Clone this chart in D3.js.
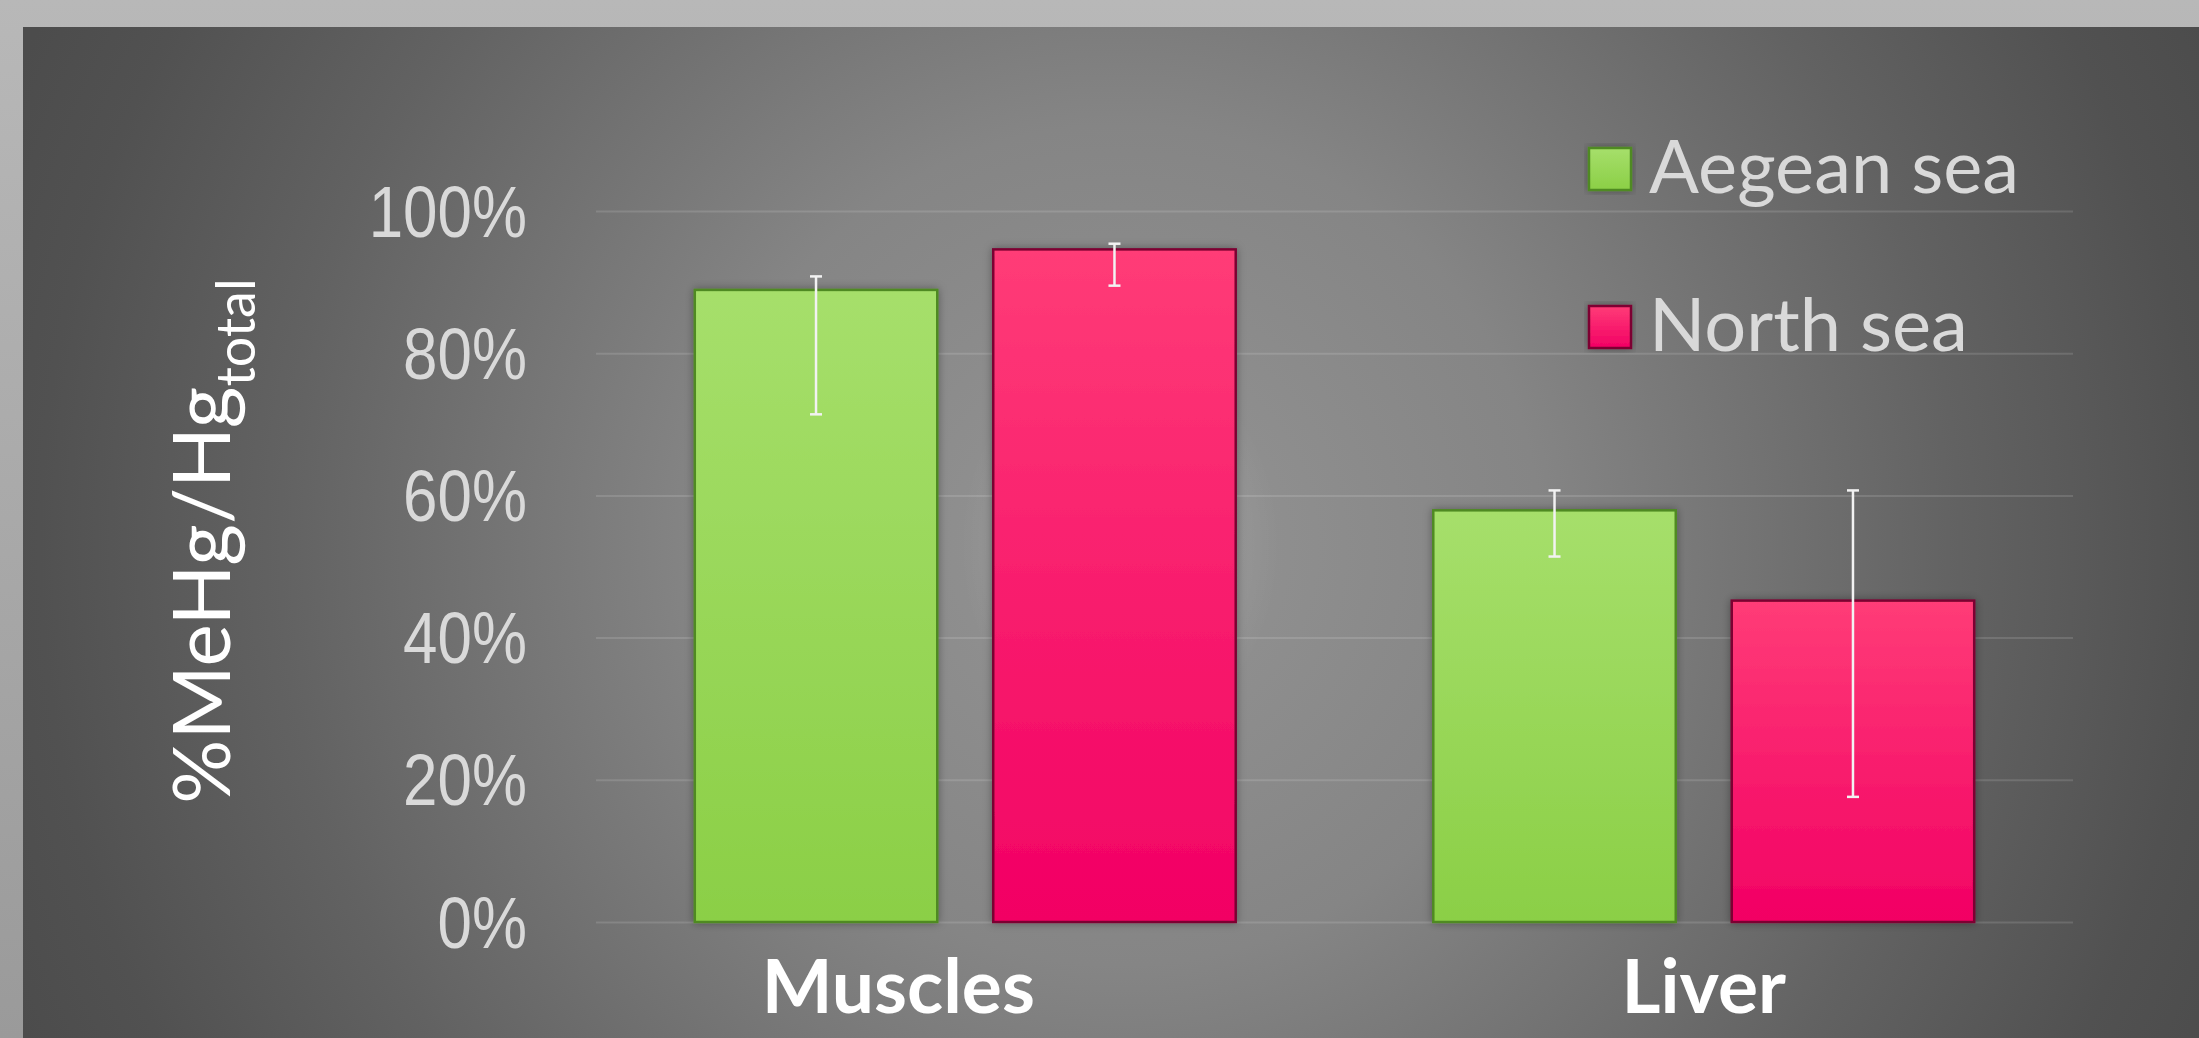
<!DOCTYPE html>
<html lang="en">
<head>
<meta charset="UTF-8">
<title>MeHg / Hg total</title>
<script src="https://d3js.org/d3.v7.min.js"></script>
<style>
  body { margin: 0; background: #b5b5b5; overflow: hidden; }
  svg { display: block; }
</style>
</head>
<body>

<svg id="chart"></svg>

<script>
const width = 2199, height = 1038;

// ==== data ====
const categories = ["Muscles", "Liver"];
const seriesNames = ["Aegean sea", "North sea"];
const aegeanValues = [88.9, 57.9];
const northValues = [94.6, 45.2];
// error bars are asymmetric in the original, so keep low/high ends
const aegeanErrLow = [71.4, 51.4];
const aegeanErrHigh = [90.8, 60.7];
const northErrLow = [89.5, 17.6];
const northErrHigh = [95.4, 60.7];
const yTicks = [0, 20, 40, 60, 80, 100];

// the "Muscles" label sits left of its group centre in the original
const catLabelShift = [-67, 0];

const series = [
  { name: seriesNames[0], values: aegeanValues, low: aegeanErrLow, high: aegeanErrHigh, grad: "gGreen", stroke: "#4f8a22" },
  { name: seriesNames[1], values: northValues, low: northErrLow, high: northErrHigh, grad: "gPink", stroke: "#7d0532" }
];

const svg = d3.select("#chart").attr("width", width).attr("height", height);
const defs = svg.append("defs");

// background gradients
const frame = defs.append("linearGradient").attr("id", "gFrame")
  .attr("x1", 0).attr("y1", 0).attr("x2", 0).attr("y2", 1);
frame.append("stop").attr("offset", 0).attr("stop-color", "#b8b8b8");
frame.append("stop").attr("offset", 1).attr("stop-color", "#9a9a9a");

const bg = defs.append("radialGradient").attr("id", "gPanel")
  .attr("gradientUnits", "userSpaceOnUse")
  .attr("cx", 1120).attr("cy", 545).attr("r", 1200);
[[0, "#949494"], [0.35, "#858585"], [0.7, "#626262"], [0.9, "#515151"], [1, "#4c4c4c"]]
  .forEach(([o, c]) => bg.append("stop").attr("offset", o).attr("stop-color", c));

const glow = defs.append("radialGradient").attr("id", "gGlow");
glow.append("stop").attr("offset", 0).attr("stop-color", "#fff").attr("stop-opacity", 0.07);
glow.append("stop").attr("offset", 0.8).attr("stop-color", "#fff").attr("stop-opacity", 0.04);
glow.append("stop").attr("offset", 1).attr("stop-color", "#fff").attr("stop-opacity", 0);

function barGradient(id, top, bottom) {
  const g = defs.append("linearGradient").attr("id", id)
    .attr("x1", 0).attr("y1", 0).attr("x2", 0).attr("y2", 1);
  g.append("stop").attr("offset", 0).attr("stop-color", top);
  g.append("stop").attr("offset", 1).attr("stop-color", bottom);
}
barGradient("gGreen", "#a6df6b", "#8bcf46");
barGradient("gPink", "#ff3c77", "#f20064");

const shadow = defs.append("filter").attr("id", "shadow")
  .attr("x", "-10%").attr("y", "-10%").attr("width", "120%").attr("height", "120%");
shadow.append("feDropShadow").attr("dx", 0).attr("dy", 0).attr("stdDeviation", 4)
  .attr("flood-color", "#000").attr("flood-opacity", 0.35);

svg.append("rect").attr("width", width).attr("height", height).attr("fill", "url(#gFrame)");
svg.append("rect").attr("x", 23).attr("y", 27).attr("width", width - 23).attr("height", height - 27)
  .attr("fill", "url(#gPanel)");
svg.append("ellipse").attr("cx", 1120).attr("cy", 545).attr("rx", 160).attr("ry", 200)
  .attr("fill", "url(#gGlow)");

// scales
const plot = { left: 596, right: 2073, top: 211, bottom: 922 };
const y = d3.scaleLinear().domain([0, 100]).range([plot.bottom, plot.top]);
const x0 = d3.scaleBand().domain(categories).range([plot.left, plot.right]).padding(0);
const x1 = d3.scaleBand().domain(seriesNames).range([0, x0.bandwidth()])
  .paddingInner(0.1876).paddingOuter(0.331);

// gridlines + tick labels via axis
const yAxis = svg.append("g")
  .attr("transform", `translate(${plot.left},0)`)
  .call(d3.axisLeft(y).tickValues(yTicks).tickSize(-(plot.right - plot.left))
    .tickPadding(69).tickFormat(d => d + "%"));
yAxis.select(".domain").remove();
yAxis.selectAll(".tick line").attr("stroke", "#ffffff").attr("stroke-opacity", 0.13).attr("stroke-width", 2);
// labels use a narrow face in the original: squeeze horizontally around the right edge
yAxis.selectAll(".tick text")
  .attr("fill", "#d9d9d9")
  .attr("font-family", "'Liberation Sans Narrow', 'Arial Narrow', 'Liberation Sans', sans-serif")
  .attr("font-size", 72)
  .attr("x", 0)
  .attr("dy", 25)
  .attr("transform", "translate(-69,0) scale(0.86,1)");

// bars
const groups = svg.append("g").selectAll("g")
  .data(series).join("g");

groups.selectAll("rect")
  .data(s => categories.map((c, i) => ({ cat: c, v: s.values[i], s })))
  .join("rect")
  .attr("x", d => x0(d.cat) + x1(d.s.name))
  .attr("y", d => y(d.v))
  .attr("width", x1.bandwidth())
  .attr("height", d => y(0) - y(d.v))
  .attr("fill", d => `url(#${d.s.grad})`)
  .attr("stroke", d => d.s.stroke)
  .attr("stroke-width", 2.5)
  .attr("filter", "url(#shadow)");

// error bars
const errs = svg.append("g").attr("stroke", "#f2f2f2").attr("stroke-width", 2.5);
series.forEach(s => {
  categories.forEach((c, i) => {
    const cx = x0(c) + x1(s.name) + x1.bandwidth() / 2;
    errs.append("line").attr("x1", cx).attr("x2", cx).attr("y1", y(s.low[i])).attr("y2", y(s.high[i]));
    [s.low[i], s.high[i]].forEach(v => {
      errs.append("line").attr("x1", cx - 6).attr("x2", cx + 6).attr("y1", y(v)).attr("y2", y(v));
    });
  });
});

// category labels
svg.append("g").selectAll("text")
  .data(categories).join("text")
  .attr("x", (d, i) => x0(d) + x0.bandwidth() / 2 + catLabelShift[i])
  .attr("y", 1013)
  .attr("text-anchor", "middle")
  .attr("font-family", "Lato, 'Open Sans', sans-serif")
  .attr("font-weight", "bold")
  .attr("font-size", 75)
  .attr("fill", "#ffffff")
  .text(d => d);

// legend
const legend = svg.append("g").selectAll("g")
  .data(series).join("g")
  .attr("transform", (d, i) => `translate(1589,${148 + i * 158})`);
legend.append("rect")
  .attr("width", 42).attr("height", 42)
  .attr("fill", d => `url(#${d.grad})`)
  .attr("stroke", d => d.stroke).attr("stroke-width", 2.5)
  .attr("filter", "url(#shadow)");
legend.append("text")
  .attr("x", 60).attr("y", 45)
  .attr("font-family", "Lato, 'Open Sans', sans-serif")
  .attr("font-size", 74)
  .attr("fill", "#d9d9d9")
  .text(d => d.name);

// y-axis title with subscript
const title = svg.append("text")
  .attr("transform", "translate(230,541) rotate(-90)")
  .attr("text-anchor", "middle")
  .attr("font-family", "Lato, 'Open Sans', sans-serif")
  .attr("font-size", 80)
  .attr("fill", "#ffffff");
title.append("tspan").text("%MeHg/Hg");
title.append("tspan").attr("dy", 25).attr("font-size", 54).text("total");

</script>
</body>
</html>
